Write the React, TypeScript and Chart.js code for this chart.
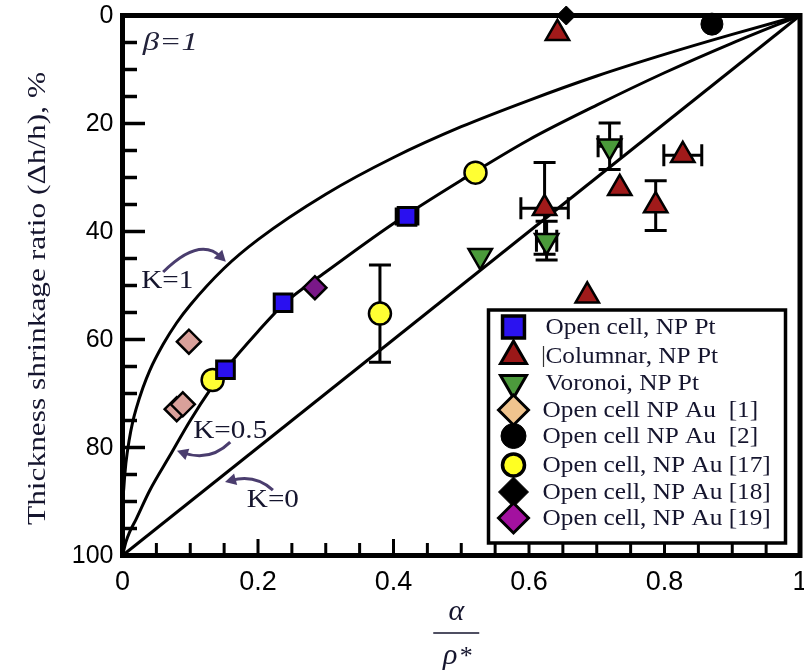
import React, { useEffect, useRef } from 'react';
import { Chart, registerables } from 'chart.js';
import { drawPoint } from 'chart.js/helpers';

Chart.register(...registerables);

// ---- axis tick labels ----
const xTickValues = [0, 0.2, 0.4, 0.6, 0.8, 1];
const xTickLabels = ['0', '0.2', '0.4', '0.6', '0.8', '1'];
const yTickValues = [0, 20, 40, 60, 80, 100];
const yTickLabels = ['0', '20', '40', '60', '80', '100'];

// ---- model curves ----
const curveK1X = [0, 0.0005, 0.002, 0.005, 0.01, 0.015, 0.02, 0.03, 0.04, 0.06, 0.08, 0.1, 0.15, 0.2, 0.3, 0.4, 0.5, 0.6, 0.7, 0.8, 0.9, 1];
const curveK1Y = [100, 92, 87.4, 82.9, 78.5, 75.3, 72.9, 69, 65.8, 60.9, 56.9, 53.6, 46.8, 41.5, 33.1, 26.3, 20.6, 15.7, 11.2, 7.2, 3.5, 0];
const curveK05X = [0, 0.005, 0.01, 0.02, 0.04, 0.07, 0.1, 0.13, 0.15, 0.2, 0.24, 0.3, 0.4, 0.5, 0.6, 0.7, 0.8, 0.9, 1];
const curveK05Y = [100, 97.5, 95.8, 93.3, 88, 81.5, 75, 69.2, 65.8, 58.5, 53.2, 47.5, 38.5, 30.5, 23, 16.6, 10.6, 5.1, 0];
const curveK0X = [0, 1];
const curveK0Y = [100, 0];

// ---- measured data ----
const openCellPtX = [0.152, 0.237, 0.42];
const openCellPtY = [65.6, 53.2, 37.2];
const openCellPtErrX = [0, 0.008, 0.016];
const openCellPtErrY = [0, 1.0, 0];

const columnarX = [0.642, 0.827, 0.734, 0.787, 0.623, 0.686];
const columnarY = [3.3, 25.9, 32.0, 35.2, 35.7, 51.9];
const columnarErrX = [0, 0.028, 0, 0, 0.035, 0];
const columnarErrY = [0, 0, 0, 4.6, 8.5, 0];

const voronoiX = [0.719, 0.626, 0.528];
const voronoiY = [24.2, 41.7, 44.5];
const voronoiErrX = [0.017, 0.015, 0];
const voronoiErrY = [4.3, 3.6, 0];

const au1X = [0.098, 0.08, 0.089];
const au1Y = [60.4, 72.9, 72.0];
const au2X = [0.87];
const au2Y = [1.6];
const au17X = [0.133, 0.38, 0.521];
const au17Y = [67.5, 55.2, 29.1];
const au17ErrX = [0, 0, 0];
const au17ErrY = [0, 9.0, 0];
const au18X = [0.655];
const au18Y = [0];
const au19X = [0.284];
const au19Y = [50.4];

const legendNames = [
  'Open cell, NP Pt',
  'Columnar, NP Pt',
  'Voronoi, NP Pt',
  'Open cell NP Au  [1]',
  'Open cell NP Au  [2]',
  'Open cell, NP Au [17]',
  'Open cell, NP Au [18]',
  'Open cell, NP Au [19]',
];

const pts = (xs: number[], ys: number[]) => xs.map((x, i) => ({ x, y: ys[i] }));

const SERIF = '"Liberation Serif", "Times New Roman", serif';
const SANS = '"Liberation Sans", Arial, sans-serif';
const NARROW = '"Liberation Sans Narrow", "Liberation Sans", Arial, sans-serif';
const TXT = '#15152e';
const ARROW = '#4a3d6e';

const errorSets = [
  { xs: openCellPtX, ys: openCellPtY, ex: openCellPtErrX, ey: openCellPtErrY, cap: 9 },
  { xs: columnarX, ys: columnarY, ex: columnarErrX, ey: columnarErrY, cap: 11 },
  { xs: voronoiX, ys: voronoiY, ex: voronoiErrX, ey: voronoiErrY, cap: 11 },
  { xs: au17X, ys: au17Y, ex: au17ErrX, ey: au17ErrY, cap: 11 },
];

// annotation anchors in data units
const labelK1 = { x: 0.066, y: 49.2 };
const labelK05 = { x: 0.159, y: 76.9 };
const labelK0 = { x: 0.222, y: 89.7 };
const labelBeta = { x: 0.03, y: 5.1 };
const arrowK1 = [{ x: 0.06, y: 47.5 }, { x: 0.114, y: 40.8 }, { x: 0.1525, y: 45.6 }];
const arrowK05 = [{ x: 0.159, y: 79.0 }, { x: 0.129, y: 82.7 }, { x: 0.0804, y: 80.6 }];
const arrowK0 = [{ x: 0.222, y: 87.9 }, { x: 0.196, y: 84.9 }, { x: 0.1513, y: 86.4 }];

function stretchText(ctx: CanvasRenderingContext2D, text: string, x: number, y: number, font: string, color: string, sx: number, align: CanvasTextAlign = 'left') {
  ctx.save();
  ctx.font = font;
  ctx.fillStyle = color;
  ctx.textAlign = align;
  ctx.textBaseline = 'middle';
  ctx.translate(x, y);
  ctx.scale(sx, 1);
  ctx.fillText(text, 0, 0);
  ctx.restore();
}

function drawArrow(ctx: CanvasRenderingContext2D, p: { x: number; y: number }[]) {
  const [a, c, b] = p;
  ctx.save();
  ctx.strokeStyle = ARROW;
  ctx.fillStyle = ARROW;
  ctx.lineWidth = 3;
  const ang = Math.atan2(b.y - c.y, b.x - c.x);
  const L = 11;
  const bx = b.x - Math.cos(ang) * L * 0.6;
  const by = b.y - Math.sin(ang) * L * 0.6;
  ctx.beginPath();
  ctx.moveTo(a.x, a.y);
  ctx.quadraticCurveTo(c.x, c.y, bx, by);
  ctx.stroke();
  ctx.beginPath();
  ctx.moveTo(b.x, b.y);
  ctx.lineTo(b.x - Math.cos(ang) * L + Math.sin(ang) * 6, b.y - Math.sin(ang) * L - Math.cos(ang) * 6);
  ctx.lineTo(b.x - Math.cos(ang) * L - Math.sin(ang) * 6, b.y - Math.sin(ang) * L + Math.cos(ang) * 6);
  ctx.closePath();
  ctx.fill();
  ctx.restore();
}

const legendMarkers = [
  { pointStyle: 'rect', radius: 15.5, rotation: 0, fill: '#2b13f0', bw: 3.5 },
  { pointStyle: 'triangle', radius: 15, rotation: 0, fill: '#9b1818', bw: 3 },
  { pointStyle: 'triangle', radius: 15, rotation: 180, fill: '#4c9a3c', bw: 3 },
  { pointStyle: 'rectRot', radius: 15, rotation: 0, fill: '#f0c48e', bw: 3 },
  { pointStyle: 'circle', radius: 12.5, rotation: 0, fill: '#000000', bw: 1 },
  { pointStyle: 'circle', radius: 11, rotation: 0, fill: '#ffff22', bw: 3.5 },
  { pointStyle: 'rectRot', radius: 15, rotation: 0, fill: '#000000', bw: 1 },
  { pointStyle: 'rectRot', radius: 15, rotation: 0, fill: '#a3119f', bw: 3 },
];
const legendRowOffsets = [17, 46, 73, 100, 126, 155, 182, 208];

const figurePlugin = {
  id: 'figure',
  beforeDatasetsDraw(chart: any) {
    const { ctx, chartArea: a, scales } = chart;
    const xs = scales.x, ys = scales.y;
    ctx.save();
    ctx.strokeStyle = '#000';
    ctx.lineCap = 'butt';
    // bottom ticks
    ctx.lineWidth = 3;
    for (let i = 0; i <= 20; i++) {
      const px = xs.getPixelForValue(i * 0.05);
      const len = i % 4 === 0 ? 16.5 : 12.5;
      ctx.beginPath();
      ctx.moveTo(px, a.bottom);
      ctx.lineTo(px, a.bottom - len);
      ctx.stroke();
    }
    // left ticks
    ctx.lineWidth = 3.5;
    for (let i = 0; i <= 20; i++) {
      const py = ys.getPixelForValue(i * 5);
      const len = i % 4 === 0 ? 22.5 : 14.5;
      ctx.beginPath();
      ctx.moveTo(a.left, py);
      ctx.lineTo(a.left + len, py);
      ctx.stroke();
    }
    // frame
    ctx.lineWidth = 5;
    ctx.strokeRect(a.left, a.top, a.right - a.left, a.bottom - a.top);

    // tick labels
    ctx.fillStyle = '#000';
    ctx.textBaseline = 'middle';
    ctx.font = `27px ${NARROW}`;
    ctx.textAlign = 'center';
    xTickValues.forEach((v, i) => ctx.fillText(xTickLabels[i], xs.getPixelForValue(v), a.bottom + 27));
    ctx.font = `25px ${SANS}`;
    ctx.textAlign = 'right';
    yTickValues.forEach((v, i) => ctx.fillText(yTickLabels[i], a.left - 9, ys.getPixelForValue(v) + 1));

    // error bars
    ctx.lineWidth = 3;
    for (const s of errorSets) {
      for (let i = 0; i < s.xs.length; i++) {
        const cx = xs.getPixelForValue(s.xs[i]);
        const cy = ys.getPixelForValue(s.ys[i]);
        if (s.ex[i] > 0) {
          const x1 = xs.getPixelForValue(s.xs[i] - s.ex[i]);
          const x2 = xs.getPixelForValue(s.xs[i] + s.ex[i]);
          ctx.beginPath();
          ctx.moveTo(x1, cy); ctx.lineTo(x2, cy);
          ctx.moveTo(x1, cy - s.cap); ctx.lineTo(x1, cy + s.cap);
          ctx.moveTo(x2, cy - s.cap); ctx.lineTo(x2, cy + s.cap);
          ctx.stroke();
        }
        if (s.ey[i] > 0) {
          const y1 = ys.getPixelForValue(s.ys[i] - s.ey[i]);
          const y2 = ys.getPixelForValue(s.ys[i] + s.ey[i]);
          ctx.beginPath();
          ctx.moveTo(cx, y1); ctx.lineTo(cx, y2);
          ctx.moveTo(cx - s.cap, y1); ctx.lineTo(cx + s.cap, y1);
          ctx.moveTo(cx - s.cap, y2); ctx.lineTo(cx + s.cap, y2);
          ctx.stroke();
        }
      }
    }
    ctx.restore();
  },
  afterDraw(chart: any) {
    const { ctx, chartArea: a, scales } = chart;
    const xs = scales.x, ys = scales.y;
    const P = (p: { x: number; y: number }) => ({ x: xs.getPixelForValue(p.x), y: ys.getPixelForValue(p.y) });

    // annotations
    ctx.save();
    ctx.font = `26px ${SERIF}`;
    const kw = ctx.measureText('K=0.5').width;
    const ks = 74 / kw;
    ctx.restore();
    const l1 = P(labelK1), l2 = P(labelK05), l3 = P(labelK0);
    stretchText(ctx, 'K=1', l1.x, l1.y, `26px ${SERIF}`, TXT, ks, 'center');
    stretchText(ctx, 'K=0.5', l2.x, l2.y, `26px ${SERIF}`, TXT, ks, 'center');
    stretchText(ctx, 'K=0', l3.x, l3.y, `26px ${SERIF}`, TXT, ks, 'center');
    drawArrow(ctx, arrowK1.map(P));
    drawArrow(ctx, arrowK05.map(P));
    drawArrow(ctx, arrowK0.map(P));
    const lb = P(labelBeta);
    ctx.save();
    ctx.font = `italic 26px ${SERIF}`;
    const bw = ctx.measureText('β=1').width;
    ctx.restore();
    stretchText(ctx, 'β=1', lb.x, lb.y, `italic 26px ${SERIF}`, '#22223a', 55 / bw, 'left');

    // legend box (placed relative to the plot frame)
    const L = a.right - 311.5, T = a.top + 294.5, R = a.right - 14.5, B = a.bottom - 12.5;
    ctx.save();
    ctx.fillStyle = '#fff';
    ctx.fillRect(L, T, R - L, B - T);
    ctx.strokeStyle = '#000';
    ctx.lineWidth = 3.5;
    ctx.strokeRect(L, T, R - L, B - T);
    ctx.font = `24px ${SERIF}`;
    const lw = ctx.measureText(legendNames[0]).width;
    const ls = 170 / lw;
    ctx.restore();
    legendMarkers.forEach((m, i) => {
      const ry = T + legendRowOffsets[i];
      ctx.save();
      ctx.fillStyle = m.fill;
      ctx.strokeStyle = '#000';
      ctx.lineWidth = m.bw;
      ctx.lineJoin = 'miter';
      drawPoint(ctx, { pointStyle: m.pointStyle as any, radius: m.radius, rotation: m.rotation, borderWidth: m.bw }, L + 25, ry);
      ctx.restore();
      stretchText(ctx, legendNames[i], L + (i < 3 ? 57 : 54), ry + 1, `24px ${SERIF}`, TXT, ls, 'left');
    });
    // text cursor artefact before "Columnar"
    ctx.save();
    ctx.strokeStyle = '#333';
    ctx.lineWidth = 1.2;
    const cy1 = T + legendRowOffsets[1];
    ctx.beginPath();
    ctx.moveTo(L + 55, cy1 - 10);
    ctx.lineTo(L + 55, cy1 + 11);
    ctx.stroke();
    ctx.restore();

    // y-axis title
    const yTitle = 'Thickness shrinkage ratio (\u0394h/h), %';
    ctx.save();
    ctx.font = `25px ${SERIF}`;
    const tw = ctx.measureText(yTitle).width;
    ctx.translate(38, (a.top + a.bottom) / 2 + 13);
    ctx.rotate(-Math.PI / 2);
    ctx.scale(453 / tw, 1);
    ctx.fillStyle = TXT;
    ctx.textAlign = 'center';
    ctx.textBaseline = 'middle';
    ctx.fillText(yTitle, 0, 0);
    ctx.restore();

    // x-axis title as a fraction
    const cx = (a.left + a.right) / 2 - 5;
    ctx.save();
    ctx.fillStyle = TXT;
    ctx.textAlign = 'center';
    ctx.textBaseline = 'alphabetic';
    ctx.font = `italic 30px ${SERIF}`;
    ctx.fillText('\u03b1', cx, 620);
    ctx.strokeStyle = TXT;
    ctx.lineWidth = 1.5;
    ctx.beginPath();
    ctx.moveTo(cx - 23, 633);
    ctx.lineTo(cx + 23, 633);
    ctx.stroke();
    ctx.fillText('\u03c1', cx - 6, 664);
    ctx.font = `26px ${SERIF}`;
    ctx.fillText('*', cx + 10, 664);
    ctx.restore();
  },
};

export default function App() {
  const ref = useRef<HTMLCanvasElement | null>(null);
  useEffect(() => {
    if (!ref.current) return;
    const curve = (xs: number[], ys: number[]) => ({
      type: 'line' as const,
      data: pts(xs, ys),
      showLine: true,
      borderColor: '#000',
      borderWidth: 3,
      pointRadius: 0,
      cubicInterpolationMode: 'monotone' as const,
      fill: false,
      order: 10,
      clip: false as any,
    });
    const marker = (xs: number[], ys: number[], style: string, radius: number, fill: string, bw: number, rotation = 0) => ({
      type: 'scatter' as const,
      data: pts(xs, ys),
      pointStyle: style as any,
      pointRadius: radius,
      pointRotation: rotation,
      pointBackgroundColor: fill,
      pointBorderColor: '#000',
      pointBorderWidth: bw,
      showLine: false,
      order: 1,
      clip: false as any,
    });
    const chart = new Chart(ref.current, {
      type: 'scatter',
      data: {
        datasets: [
          marker(openCellPtX, openCellPtY, 'rect', 12.5, '#2a10f0', 3),
          marker(columnarX, columnarY, 'triangle', 13.5, '#a01a1a', 2.5),
          marker(voronoiX, voronoiY, 'triangle', 13.5, '#4a9a3a', 2.5, 180),
          marker(au1X, au1Y, 'rectRot', 12, '#d9a09a', 2.5),
          marker(au2X, au2Y, 'circle', 11, '#000000', 1),
          marker(au17X, au17Y, 'circle', 11, '#ffff33', 2.5),
          marker(au18X, au18Y, 'rectRot', 9.5, '#000000', 1),
          marker(au19X, au19Y, 'rectRot', 11.5, '#7a1888', 2.5),
          curve(curveK1X, curveK1Y) as any,
          curve(curveK05X, curveK05Y) as any,
          curve(curveK0X, curveK0Y) as any,
        ],
      },
      options: {
        animation: false,
        responsive: false,
        maintainAspectRatio: false,
        layout: { autoPadding: false, padding: { left: 0, right: 4, top: 15.5, bottom: 0 } },
        plugins: { legend: { display: false }, tooltip: { enabled: false } },
        scales: {
          x: {
            type: 'linear',
            min: 0,
            max: 1,
            grid: { display: false, drawTicks: false },
            border: { display: false },
            ticks: { display: false, stepSize: 0.2 },
            afterFit: (s: any) => { s.height = 115.5; },
          },
          y: {
            type: 'linear',
            min: 0,
            max: 100,
            reverse: true,
            grid: { display: false, drawTicks: false },
            border: { display: false },
            ticks: { display: false, stepSize: 20 },
            afterFit: (s: any) => { s.width = 122.5; },
          },
        },
      },
      plugins: [figurePlugin],
    } as any);
    return () => chart.destroy();
  }, []);
  return (
    <div style={{ position: 'absolute', left: 0, top: 0, width: 804, height: 671, background: '#fff' }}>
      <canvas ref={ref} width={804} height={671} style={{ width: 804, height: 671, display: 'block' }} />
    </div>
  );
}
